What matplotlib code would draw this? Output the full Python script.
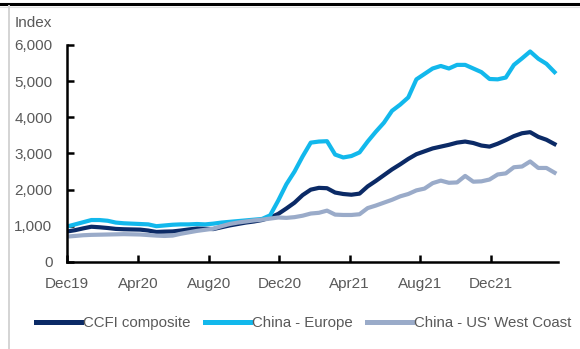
import matplotlib
matplotlib.use("Agg")
import matplotlib.pyplot as plt
import matplotlib.dates as mdates
from matplotlib.lines import Line2D
import pandas as pd

# Fortnightly observations, Dec 2019 - Mar 2022
dates = pd.date_range("2019-12-01", periods=61, freq="14D")

ccfi_composite = [
    843, 880, 930, 975, 960, 940, 915, 905, 900, 895,
    870, 830, 840, 845, 870, 900, 925, 920, 910, 960,
    1010, 1050, 1090, 1120, 1160, 1230, 1330, 1480, 1640, 1850,
    2000, 2050, 2040, 1920, 1880, 1860, 1890, 2090, 2240, 2400,
    2560, 2700, 2850, 2980, 3060, 3140, 3190, 3240, 3300, 3330,
    3290, 3220, 3190, 3270, 3370, 3480, 3560, 3590, 3460, 3380,
    3260,
]
china_europe = [
    980, 1040, 1100, 1160, 1160, 1140, 1090, 1070, 1060, 1050,
    1040, 990, 1010, 1030, 1040, 1040, 1050, 1040, 1060, 1090,
    1110, 1130, 1150, 1170, 1190, 1290, 1700, 2150, 2500, 2920,
    3300, 3330, 3340, 2970, 2890, 2930, 3030, 3330, 3600, 3850,
    4180, 4350, 4550, 5050, 5200, 5350, 5420, 5350, 5450, 5450,
    5350, 5250, 5060, 5050, 5100, 5450, 5630, 5820, 5620, 5480,
    5250,
]
china_us_west = [
    703, 720, 740, 750, 755, 760, 765, 770, 765, 760,
    745, 730, 720, 730, 780, 820, 860, 890, 920, 990,
    1050, 1090, 1120, 1150, 1170, 1200, 1230, 1220, 1240, 1280,
    1340, 1360, 1420, 1310, 1300, 1300, 1320, 1490, 1560, 1640,
    1720, 1815, 1880, 1980, 2030, 2180, 2250, 2190, 2200, 2380,
    2220, 2230, 2280, 2420, 2450, 2620, 2640, 2780, 2600, 2600,
    2470,
]

series_names = ["CCFI composite", "China - Europe", "China - US' West Coast"]
series_colors = ["#0B2A66", "#12B8EC", "#9AABC9"]

y_ticks = [0, 1000, 2000, 3000, 4000, 5000, 6000]
x_tick_dates = pd.to_datetime(["2019-12-01", "2020-04-01", "2020-08-01",
                               "2020-12-01", "2021-04-01", "2021-08-01",
                               "2021-12-01"])

plt.rcParams["font.family"] = ["Liberation Sans", "DejaVu Sans"]
text_color = "#595959"

fig = plt.figure(figsize=(5.8, 3.49), dpi=100)
ax = fig.add_axes([0.1155, 0.2493, 0.8466, 0.6218])

for vals, name, col in zip([ccfi_composite, china_europe, china_us_west],
                           series_names, series_colors):
    ax.plot(dates, vals, color=col, lw=3.0, label=name, solid_joinstyle="round")

ax.set_ylim(0, 6000)
ax.set_xlim(pd.Timestamp("2019-12-01"), pd.Timestamp("2022-03-26"))
ax.set_yticks(y_ticks)
ax.set_yticklabels([f"{v:,}" for v in y_ticks])
ax.set_xticks(x_tick_dates)
ax.xaxis.set_major_formatter(mdates.DateFormatter("%b%y"))

for s in ["top", "right"]:
    ax.spines[s].set_visible(False)
for s in ["left", "bottom"]:
    ax.spines[s].set_linewidth(1.8)
    ax.spines[s].set_color("black")

ax.tick_params(axis="both", direction="in", length=5, width=1.8,
               labelsize=11, labelcolor=text_color)
ax.tick_params(axis="y", pad=10.5)
ax.tick_params(axis="x", pad=10.5)

fig.text(15 / 580, 1 - 23 / 349, "Index", fontsize=11, color=text_color,
         ha="left", va="center")

handles = [Line2D([0], [0], color=c, lw=3.6) for c in series_colors]
fig.legend(handles, series_names, loc="center left",
           bbox_to_anchor=(36 / 580, 1 - 323 / 349), ncol=3, frameon=False,
           fontsize=10.8, labelcolor=text_color, handlelength=3.0,
           handletextpad=0.15, columnspacing=0.95, borderpad=0,
           borderaxespad=0)

# frame strokes around the chart
fig.add_artist(Line2D([0, 1], [1 - 4 / 349, 1 - 4 / 349], color="black",
                      lw=2.2, transform=fig.transFigure))
fig.add_artist(Line2D([0, 1], [1 - 6.5 / 349, 1 - 6.5 / 349], color="#E0E0E0",
                      lw=0.8, transform=fig.transFigure))
fig.add_artist(Line2D([9 / 580, 9 / 580], [0, 1 - 6 / 349], color="#D4D4D4",
                      lw=1.4, transform=fig.transFigure))

fig.savefig("out.png", dpi=100)
